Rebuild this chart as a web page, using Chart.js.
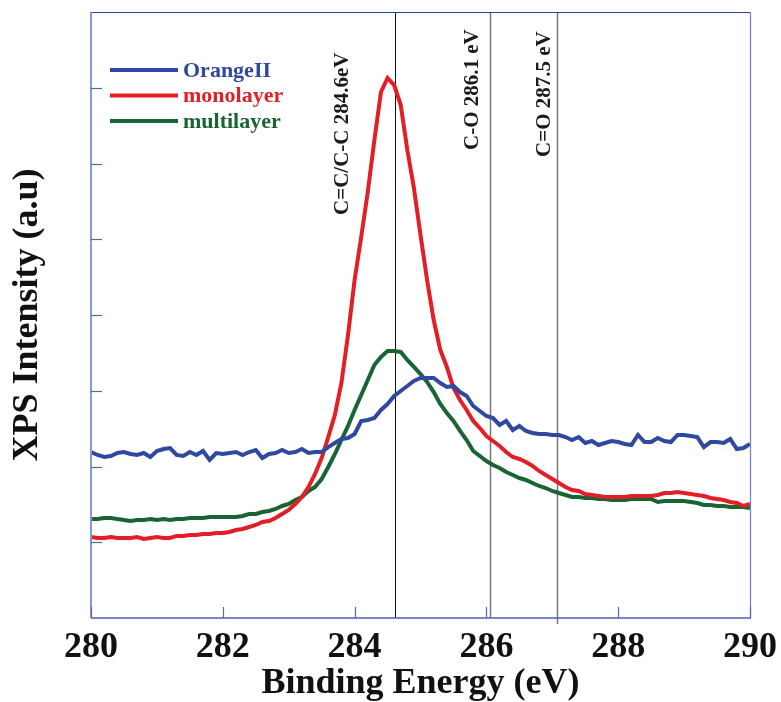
<!DOCTYPE html>
<html>
<head>
<meta charset="utf-8">
<script src="https://cdn.jsdelivr.net/npm/chart.js@4.4.0/dist/chart.umd.min.js"></script>
<style>
  html, body { margin: 0; padding: 0; background: #fff; }
  #wrap { width: 781px; height: 702px; }
</style>
</head>
<body>
<div id="wrap"><canvas id="xpsChart" width="781" height="702"></canvas></div>
<script>
// binding energy grid (eV)
const energy = [
  280.0, 280.1, 280.2, 280.3, 280.4, 280.5, 280.6, 280.7, 280.8, 280.9,
  281.0, 281.1, 281.2, 281.3, 281.4, 281.5, 281.6, 281.7, 281.8, 281.9,
  282.0, 282.1, 282.2, 282.3, 282.4, 282.5, 282.6, 282.7, 282.8, 282.9,
  283.0, 283.1, 283.2, 283.3, 283.4, 283.5, 283.6, 283.7, 283.8, 283.9,
  284.0, 284.1, 284.2, 284.3, 284.4, 284.5, 284.6, 284.7, 284.8, 284.9,
  285.0, 285.1, 285.2, 285.3, 285.4, 285.5, 285.6, 285.7, 285.8, 285.9,
  286.0, 286.1, 286.2, 286.3, 286.4, 286.5, 286.6, 286.7, 286.8, 286.9,
  287.0, 287.1, 287.2, 287.3, 287.4, 287.5, 287.6, 287.7, 287.8, 287.9,
  288.0, 288.1, 288.2, 288.3, 288.4, 288.5, 288.6, 288.7, 288.8, 288.9,
  289.0, 289.1, 289.2, 289.3, 289.4, 289.5, 289.6, 289.7, 289.8, 289.9,
  290.0
];

// intensities (a.u.)
const orangeII = [
  2191, 2152, 2125, 2139, 2178, 2191, 2165, 2152, 2178, 2125,
  2205, 2231, 2244, 2152, 2139, 2191, 2152, 2205, 2086, 2178,
  2165, 2178, 2191, 2152, 2191, 2218, 2112, 2165, 2178, 2218,
  2178, 2191, 2231, 2178, 2191, 2191, 2257, 2310, 2363, 2376,
  2429, 2601, 2614, 2640, 2746, 2825, 2931, 2997, 3063, 3129,
  3168, 3168, 3168, 3102, 3050, 3063, 2983, 2931, 2799, 2733,
  2667, 2640, 2548, 2601, 2482, 2535, 2469, 2442, 2429, 2429,
  2416, 2416, 2389, 2350, 2389, 2310, 2337, 2284, 2310, 2337,
  2323, 2297, 2284, 2416, 2323, 2323, 2376, 2337, 2323, 2416,
  2416, 2403, 2389, 2257, 2323, 2323, 2310, 2363, 2231, 2244,
  2297
];

const monolayer = [
  1069, 1056, 1056, 1069, 1056, 1056, 1056, 1069, 1043, 1056,
  1069, 1056, 1056, 1083, 1083, 1096, 1096, 1109, 1109, 1122,
  1122, 1135, 1162, 1175, 1201, 1228, 1267, 1281, 1320, 1373,
  1426, 1505, 1597, 1729, 1901, 2112, 2389, 2680, 3102, 3736,
  4462, 5030, 5624, 6310, 6944, 7129, 7036, 6772, 6178, 5677,
  5056, 4462, 3934, 3538, 3314, 3036, 2878, 2746, 2601, 2508,
  2403, 2337, 2271, 2191, 2125, 2099, 2059, 2007, 1941, 1888,
  1835, 1782, 1729, 1690, 1677, 1637, 1624, 1611, 1597, 1597,
  1597, 1597, 1611, 1611, 1611, 1611, 1624, 1650, 1650, 1663,
  1650, 1637, 1624, 1611, 1584, 1571, 1558, 1531, 1518, 1479,
  1505
];

const multilayer = [
  1307, 1307, 1320, 1320, 1307, 1294, 1281, 1294, 1294, 1307,
  1294, 1307, 1294, 1307, 1307, 1320, 1320, 1320, 1333, 1333,
  1333, 1333, 1333, 1347, 1373, 1373, 1399, 1413, 1439, 1479,
  1505, 1558, 1597, 1677, 1729, 1835, 1993, 2165, 2350, 2535,
  2746, 2944, 3142, 3340, 3446, 3525, 3525, 3512, 3406, 3314,
  3221, 3116, 2983, 2825, 2706, 2601, 2469, 2350, 2205, 2139,
  2073, 2020, 1980, 1927, 1888, 1848, 1822, 1782, 1743, 1716,
  1677, 1650, 1624, 1597, 1597, 1584, 1584, 1571, 1571, 1558,
  1558, 1558, 1571, 1571, 1571, 1571, 1531, 1545, 1545, 1545,
  1545, 1531, 1518, 1492, 1492, 1479, 1479, 1465, 1465, 1465,
  1452
];

const seriesNames = ['OrangeII', 'monolayer', 'multilayer'];
const seriesColors = ['#2f48a2', '#e21f26', '#1a6433'];

// reference lines and their labels
const markerEnergies = [284.62, 286.05, 287.07];
const markerLabels = ['C=C/C-C 284.6eV', 'C-O 286.1 eV', 'C=O 287.5 eV'];

const xTicks = [280, 282, 284, 286, 288, 290];

const serif = "'Liberation Serif', 'Times New Roman', serif";

function toPoints(vals) {
  return vals.map((v, i) => ({ x: energy[i], y: v }));
}

// frame, inward ticks, marker lines, legend
const decorPlugin = {
  id: 'decor',
  beforeDatasetsDraw(chart) {
    const { ctx, chartArea: a, scales: { x } } = chart;
    ctx.save();
    markerEnergies.forEach((e, i) => {
      const px = Math.round(x.getPixelForValue(e)) + 0.5;
      ctx.strokeStyle = i === 0 ? '#111' : '#777';
      ctx.lineWidth = i === 0 ? 1 : 1.5;
      ctx.beginPath();
      ctx.moveTo(px, a.top);
      ctx.lineTo(px, a.bottom + (i === 2 ? 6 : 0));
      ctx.stroke();
    });
    ctx.restore();
  },
  afterDraw(chart) {
    const { ctx, chartArea: a, scales: { x, y } } = chart;
    ctx.save();

    // axes box
    ctx.lineWidth = 1.2;
    ctx.strokeStyle = '#2c41a0';
    ctx.beginPath();
    ctx.moveTo(a.left, a.top + 0.5);
    ctx.lineTo(a.right, a.top + 0.5);
    ctx.stroke();
    ctx.strokeStyle = '#6f80c6';
    ctx.beginPath();
    ctx.moveTo(a.right + 0.5, a.top);
    ctx.lineTo(a.right + 0.5, a.bottom);
    ctx.stroke();
    ctx.lineWidth = 2;
    ctx.strokeStyle = '#8a98d0';
    ctx.beginPath();
    ctx.moveTo(a.left, a.top);
    ctx.lineTo(a.left, a.bottom);
    ctx.stroke();
    ctx.lineWidth = 1.5;
    ctx.strokeStyle = '#4d60b2';
    ctx.beginPath();
    ctx.moveTo(a.left, a.bottom);
    ctx.lineTo(a.right + 1, a.bottom);
    ctx.stroke();

    // inward tick marks
    ctx.lineWidth = 1.2;
    ctx.strokeStyle = '#5466b6';
    x.ticks.forEach(t => {
      const px = Math.round(x.getPixelForValue(t.value)) + 0.5;
      ctx.beginPath();
      ctx.moveTo(px, a.bottom);
      ctx.lineTo(px, a.bottom - 11);
      ctx.stroke();
    });
    y.ticks.forEach(t => {
      if (t.value <= y.min || t.value >= y.max) return;
      const py = Math.round(y.getPixelForValue(t.value)) + 0.5;
      ctx.beginPath();
      ctx.moveTo(a.left, py);
      ctx.lineTo(a.left + 11, py);
      ctx.stroke();
    });

    // marker labels, rotated
    const labelDx = [-53, -17, -12];
    const labelBottom = [203, 138, 145];
    ctx.fillStyle = '#1a1a1a';
    ctx.font = 'bold 21px ' + serif;
    ctx.textAlign = 'left';
    ctx.textBaseline = 'middle';
    markerEnergies.forEach((e, i) => {
      const px = x.getPixelForValue(e) + labelDx[i];
      ctx.save();
      ctx.translate(px, a.top + labelBottom[i]);
      ctx.rotate(-Math.PI / 2);
      ctx.fillText(markerLabels[i], 0, 0);
      ctx.restore();
    });

    // legend
    ctx.font = 'bold 22px ' + serif;
    chart.data.datasets.forEach((ds, i) => {
      const ly = a.top + 58 + i * 25.5;
      ctx.strokeStyle = ds.borderColor;
      ctx.lineWidth = 4;
      ctx.beginPath();
      ctx.moveTo(a.left + 19, ly);
      ctx.lineTo(a.left + 87, ly);
      ctx.stroke();
      ctx.fillStyle = ds.borderColor;
      ctx.fillText(ds.label, a.left + 92, ly + 1);
    });

    ctx.restore();
  }
};

const data = {
  datasets: seriesNames.map((name, i) => ({
    label: name,
    data: toPoints([orangeII, monolayer, multilayer][i]),
    borderColor: seriesColors[i],
    backgroundColor: seriesColors[i],
    borderWidth: 4,
    pointRadius: 0,
    tension: 0,
    fill: false
  }))
};

const config = {
  type: 'line',
  data: data,
  options: {
    responsive: false,
    animation: false,
    layout: { padding: { top: 12, right: 29, left: 0, bottom: 0 } },
    plugins: {
      legend: { display: false },
      tooltip: { enabled: false }
    },
    scales: {
      x: {
        type: 'linear',
        min: 280,
        max: 290,
        grid: { display: false },
        border: { display: false },
        afterBuildTicks: scale => {
          scale.ticks = xTicks.map(v => ({ value: v }));
        },
        afterFit: scale => { scale.height = 84; },
        ticks: {
          padding: 4,
          maxRotation: 0,
          color: '#111',
          font: { family: serif, size: 36, weight: 'bold', lineHeight: 1 }
        },
        title: {
          display: true,
          text: 'Binding Energy (eV)',
          color: '#111',
          padding: 0,
          font: { family: serif, size: 36, weight: 'bold', lineHeight: 1 }
        }
      },
      y: {
        min: 0,
        max: 8000,
        grid: { display: false },
        border: { display: false },
        afterFit: scale => { scale.width = 91; },
        ticks: { display: false, stepSize: 1000 },
        title: {
          display: true,
          text: 'XPS Intensity (a.u)',
          color: '#111',
          padding: { top: 10, bottom: 0 },
          font: { family: serif, size: 36, weight: 'bold', lineHeight: 1 }
        }
      }
    }
  },
  plugins: [decorPlugin]
};

const xpsChart = new Chart(document.getElementById('xpsChart'), config);
</script>
</body>
</html>
